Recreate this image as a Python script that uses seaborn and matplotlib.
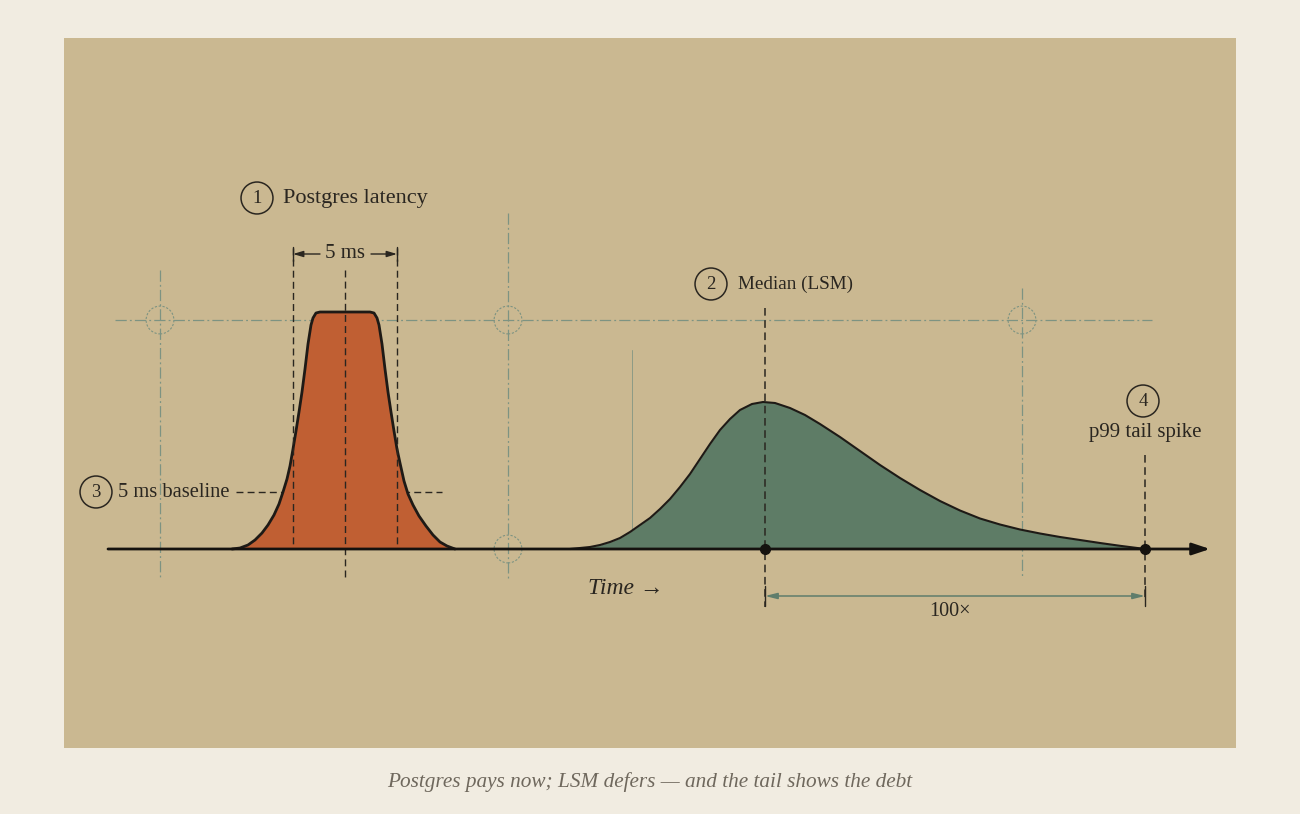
import numpy as np
import pandas as pd
import matplotlib
matplotlib.use("Agg")
import matplotlib.pyplot as plt
import seaborn as sns

# ---- data (time units on x, latency density height on y) ----
pg_time = [232, 240, 248, 255, 262, 268, 274, 279, 283, 287, 290, 293, 296,
           299, 302, 305, 308, 311, 313, 316, 320,
           345,
           370, 374, 377, 379, 382, 385, 388, 391, 394, 397, 400, 404, 408,
           413, 419, 426, 433, 440, 447, 455]
pg_height = [0, 1, 4, 9, 16, 24, 34, 45, 57, 70, 83, 100, 118,
             137, 157, 180, 205, 224, 231, 236, 237,
             237,
             237, 236, 231, 224, 205, 180, 157, 137, 118, 100, 86, 68, 55,
             44, 33, 23, 14, 7, 3, 0]

lsm_time = [570, 580, 590, 600, 610, 620, 630, 640, 650, 660, 670, 680, 690,
            700, 710, 720, 730, 740, 752, 763, 775, 790, 805, 820, 840, 860,
            880, 900, 920, 940, 960, 980, 1000, 1020, 1040, 1060, 1080, 1100,
            1120, 1135, 1145]
lsm_height = [0, 1, 2, 4, 7, 11, 17, 24, 31, 40, 50, 62, 75,
              90, 105, 119, 130, 139, 145, 147, 146, 141, 134, 125, 112, 98,
              84, 71, 59, 48, 38.5, 30.5, 24.5, 19.5, 15.5, 12, 9, 6,
              3.2, 1.3, 0]

pg_window = [293, 397]          # 5 ms window
pg_center = 345
lsm_median = 765
lsm_p99 = 1145
baseline_level = 57
guide_level = 229
guide_cols = [160, 508, 1022]
labels = ["Postgres latency", "Median (LSM)", "5 ms baseline", "p99 tail spike"]
caption = "Postgres pays now; LSM defers \u2014 and the tail shows the debt"

# ---- style ----
OUTER = "#F1ECE1"
PANEL = "#CAB891"
ORANGE = "#C05F33"
GREEN = "#5E7C66"
GUIDE = "#7D9382"
INK = "#2A2620"
DIM = "#5F7D6C"

sns.set_theme(style="white")
plt.rcParams["font.family"] = ["Liberation Serif", "DejaVu Serif"]

fig = plt.figure(figsize=(13, 8.14), dpi=100, facecolor=OUTER)
ax = fig.add_axes([64 / 1300, 1 - 748 / 814, 1172 / 1300, 710 / 814])
ax.set_facecolor(PANEL)
ax.set_xlim(64, 1236)
ax.set_ylim(-199, 511)
ax.set_axis_off()
ax.add_patch(plt.Rectangle((0, 0), 1, 1, transform=ax.transAxes,
                           facecolor=PANEL, edgecolor="none", zorder=0))

pg = pd.DataFrame({"t": pg_time, "h": pg_height})
lsm = pd.DataFrame({"t": lsm_time, "h": lsm_height})

# construction guides
dashdot = (0, (9, 2.5, 1.5, 2.5))
ax.plot([115, 1152], [guide_level, guide_level], color=GUIDE, lw=0.9, ls=dashdot, zorder=1)
for x, top in zip(guide_cols, [279, 336, 261]):
    ax.plot([x, x], [top, -29], color=GUIDE, lw=0.9, ls=dashdot, zorder=1)
ax.plot([632, 632], [199, 0], color=GUIDE, lw=0.7, alpha=0.8, zorder=1)
ax.scatter(guide_cols + [508], [guide_level] * 3 + [0], s=20 ** 2,
           facecolors="none", edgecolors=GUIDE, linewidths=0.8,
           linestyle=(0, (2, 1.5)), zorder=1)

# baseline dashed line
ax.plot([236, 442], [baseline_level, baseline_level], color=INK, lw=1,
        ls=(0, (5, 3)), zorder=2)

# curves
ax.fill_between(pg["t"], 0, pg["h"], color=ORANGE, lw=0, zorder=3)
sns.lineplot(data=pg, x="t", y="h", ax=ax, color="#1E1A16", lw=2.0,
             sort=False, zorder=4)
ax.fill_between(lsm["t"], 0, lsm["h"], color=GREEN, lw=0, zorder=3)
sns.lineplot(data=lsm, x="t", y="h", ax=ax, color="#1E1A16", lw=1.5,
             sort=False, zorder=4)

# black dashed markers
for x in pg_window:
    ax.plot([x, x], [301, 0], color=INK, lw=1, ls=(0, (5, 3)), zorder=5)
ax.plot([pg_center, pg_center], [279, -29], color=INK, lw=1, ls=(0, (5, 3)), zorder=5)
ax.plot([lsm_median, lsm_median], [241, -58], color=INK, lw=1.1, ls=(0, (5, 3)), zorder=5)
ax.plot([lsm_p99, lsm_p99], [94, -51], color=INK, lw=1.1, ls=(0, (5, 3)), zorder=5)

# time axis
ax.annotate("", xy=(1210, 0), xytext=(108, 0),
            arrowprops=dict(arrowstyle="-|>,head_length=0.9,head_width=0.3",
                            color="#15120F", lw=2.0, shrinkA=0, shrinkB=0), zorder=6)
ax.plot([lsm_median, lsm_p99], [0, 0], "o", color="#15120F", ms=7, zorder=7)

# 5 ms dimension
dim_y = 295
for x in pg_window:
    ax.plot([x, x], [dim_y - 7, dim_y + 7], color=INK, lw=1, zorder=5)
ax.annotate("", xy=(pg_window[0], dim_y), xytext=(320, dim_y),
            arrowprops=dict(arrowstyle="-|>,head_length=0.5,head_width=0.15",
                            color=INK, lw=1, shrinkA=0, shrinkB=0))
ax.annotate("", xy=(pg_window[1], dim_y), xytext=(371, dim_y),
            arrowprops=dict(arrowstyle="-|>,head_length=0.5,head_width=0.15",
                            color=INK, lw=1, shrinkA=0, shrinkB=0))
ax.text(pg_center, dim_y, "5 ms", ha="center", va="center", fontsize=15, color=INK)

# 100x dimension
d_y = -47
for x in [lsm_median, lsm_p99]:
    ax.plot([x, x], [d_y + 10, d_y - 10], color=INK, lw=1, zorder=5)
ax.annotate("", xy=(lsm_median, d_y), xytext=(lsm_p99, d_y),
            arrowprops=dict(arrowstyle="<|-|>,head_length=0.6,head_width=0.15",
                            color=DIM, lw=1.1, shrinkA=0, shrinkB=0))
ax.text(950, -62, "100\u00d7", ha="center", va="center", fontsize=14.5, color=INK)

# circled callouts
def callout(x, y, num):
    ax.scatter([x], [y], s=23 ** 2, facecolors="none", edgecolors=INK,
               linewidths=1.1, zorder=8)
    ax.text(x, y - 0.5, str(num), ha="center", va="center", fontsize=13.5,
            color=INK, zorder=9)

callout(257, 351, 1)
ax.text(283, 351, labels[0], ha="left", va="center", fontsize=16, color=INK)
callout(711, 265, 2)
ax.text(738, 265, labels[1], ha="left", va="center", fontsize=13.8, color=INK)
callout(96, 57, 3)
ax.text(118, 57, labels[2], ha="left", va="center", fontsize=14.8, color=INK)
callout(1143, 148, 4)
ax.text(1145, 117, labels[3], ha="center", va="center", fontsize=15, color=INK)

ax.text(626, -40, "Time \u2192", ha="center", va="center", fontsize=17,
        style="italic", color=INK)

fig.text(650 / 1300, 1 - 782 / 814, caption, ha="center", va="center",
         fontsize=15.3, style="italic", color="#6F685D")

fig.savefig("out.png", dpi=100, facecolor=OUTER)
